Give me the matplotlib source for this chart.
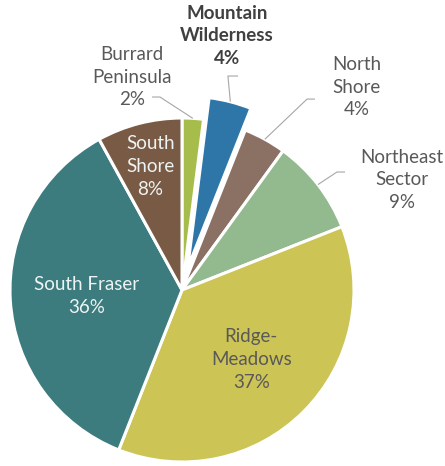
import numpy as np
import matplotlib
matplotlib.use("Agg")
import matplotlib.pyplot as plt

plt.rcParams['font.family'] = ['Lato', 'DejaVu Sans']

# Share of the total by region, alphabetical, clockwise from 12 o'clock
regions = ["Burrard\nPeninsula", "Mountain\nWilderness", "North\nShore",
           "Northeast\nSector", "Ridge-\nMeadows", "South Fraser", "South\nShore"]
shares = [2, 4, 4, 9, 37, 36, 8]
colors = ["#a6bd4c", "#2f76a8", "#8b7163", "#93b98f",
          "#cdc456", "#3c7c7e", "#795b45"]
explode = [0, 0.13, 0, 0, 0, 0, 0]

# label placement: inside labels as fraction of radius, outside ones as text anchors
inside = {4: 0.57, 5: 0.555, 6: 0.74}
outside = {
    0: dict(text=(-0.291, 1.238), elbow=[(-0.174, 1.122), (-0.128, 1.122)]),
    1: dict(text=(0.262, 1.477), elbow=[(0.326, 1.244), (0.267, 1.244)]),
    2: dict(text=(1.017, 1.180), elbow=[(0.773, 1.110), (0.727, 1.110)]),
    3: dict(text=(1.279, 0.640), elbow=[(0.948, 0.686), (0.901, 0.686)]),
}
FS = 13.5
LS = 1.42

fig = plt.figure(figsize=(4.45, 4.66), dpi=100)
ax = fig.add_axes([0, 0, 1, 1])

wedges, _ = ax.pie(shares, colors=colors, explode=explode, startangle=90,
                   counterclock=False, radius=1,
                   wedgeprops=dict(edgecolor="white", linewidth=2.2))

for i, w in enumerate(wedges):
    mid = np.deg2rad((w.theta1 + w.theta2) / 2)
    label = f"{regions[i]}\n{shares[i]}%"
    if i in inside:
        r = inside[i]
        x, y = w.center[0] + r * np.cos(mid), w.center[1] + r * np.sin(mid)
        col = "#595959" if i == 4 else "#eef3f3"
        ax.text(x, y, label, ha="center", va="center", fontsize=FS,
                color=col, linespacing=LS)
    else:
        o = outside[i]
        edge = (w.center[0] + np.cos(mid), w.center[1] + np.sin(mid))
        pts = np.array(o["elbow"] + [edge])
        ax.plot(pts[:, 0], pts[:, 1], color="#a6a6a6", lw=0.8,
                solid_capstyle="butt")
        ax.text(*o["text"], label, ha="center", va="center", fontsize=FS,
                color="#404040" if i == 1 else "#595959",
                fontweight="bold" if i == 1 else "normal", linespacing=LS)

ax.set_xlim(-182 / 172, 263 / 172)
ax.set_ylim(-176 / 172, 290 / 172)
ax.set_aspect("equal")
ax.axis("off")

fig.savefig("out.png", dpi=100, facecolor="white")
